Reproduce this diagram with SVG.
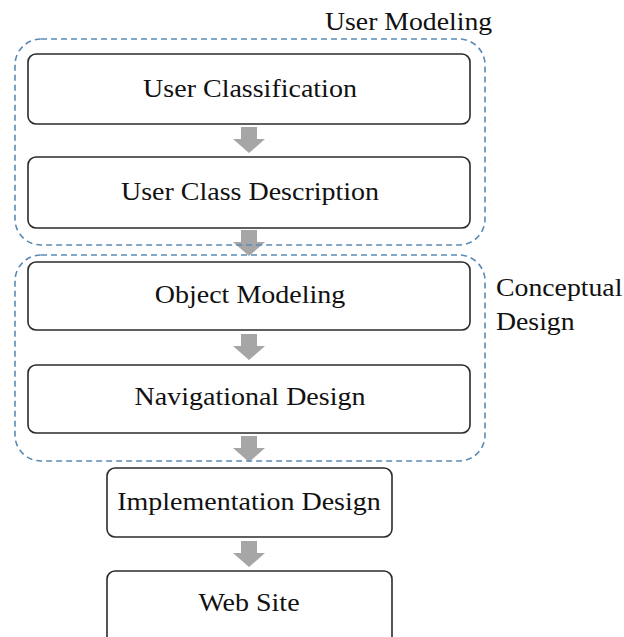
<svg xmlns="http://www.w3.org/2000/svg" width="624" height="637" viewBox="0 0 624 637">
<style>
.box{fill:#fff;stroke:#2b2b2b;stroke-width:1.6}
.grp{fill:none;stroke:#5b8ab5;stroke-width:1.6;stroke-dasharray:6 4}
.arr{fill:#a6a6a6}
.t{font-family:"Liberation Serif",serif;font-size:25px;fill:#111}
.c{text-anchor:middle}
</style>
<rect width="624" height="637" fill="#fff"/>
<g id="connectors">
<path class="arr" d="M241,127h16v12h8l-16,14l-16,-14h8z"/>
<path class="arr" d="M241,230h16v12h8l-16,14l-16,-14h8z"/>
<path class="arr" d="M241,334h16v12h8l-16,14l-16,-14h8z"/>
<path class="arr" d="M241,436h16v12h8l-16,14l-16,-14h8z"/>
<path class="arr" d="M241,541h16v12h8l-16,14l-16,-14h8z"/>
</g>
<g id="user-modeling">
<rect class="grp" x="15" y="39" width="470" height="206" rx="26"/>
<text class="t" transform="translate(325,30) scale(1.11,1)">User Modeling</text>
</g>
<g id="conceptual-design">
<rect class="grp" x="15" y="255" width="470" height="206" rx="26"/>
<text class="t" transform="translate(496,296) scale(1.11,1)">Conceptual</text>
<text class="t" transform="translate(496,330) scale(1.11,1)">Design</text>
</g>
<g id="user-classification">
<rect class="box" x="28" y="54" width="442" height="70" rx="8"/>
<text class="t c" transform="translate(250,97) scale(1.12,1)">User Classification</text>
</g>
<g id="user-class-description">
<rect class="box" x="28" y="157" width="442" height="71" rx="8"/>
<text class="t c" transform="translate(250,200) scale(1.12,1)">User Class Description</text>
</g>
<g id="object-modeling">
<rect class="box" x="28" y="262" width="442" height="68" rx="8"/>
<text class="t c" transform="translate(250,303) scale(1.12,1)">Object Modeling</text>
</g>
<g id="navigational-design">
<rect class="box" x="28" y="365" width="442" height="68" rx="8"/>
<text class="t c" transform="translate(250,405) scale(1.12,1)">Navigational Design</text>
</g>
<g id="implementation-design">
<rect class="box" x="107" y="468" width="285" height="69" rx="8"/>
<text class="t c" transform="translate(249,510) scale(1.12,1)">Implementation Design</text>
</g>
<g id="web-site">
<rect class="box" x="107" y="571" width="285" height="80" rx="8"/>
<text class="t c" transform="translate(249,611) scale(1.12,1)">Web Site</text>
</g>
</svg>
